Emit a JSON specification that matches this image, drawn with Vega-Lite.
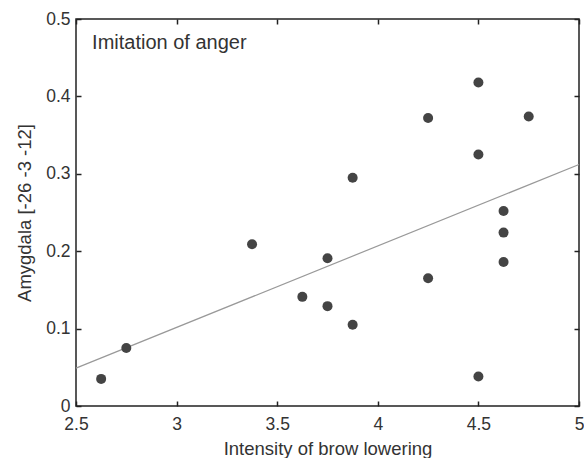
{
  "$schema": "https://vega.github.io/schema/vega-lite/v6.json",
  "width": 503,
  "height": 387,
  "autosize": {"type": "none"},
  "padding": {"left": 76, "top": 19, "right": 5, "bottom": 52},
  "background": "white",
  "config": {
    "view": {"stroke": "#222", "strokeWidth": 1.5},
    "font": "Liberation Sans",
    "axis": {
      "grid": false,
      "domain": false,
      "tickColor": "#222",
      "tickWidth": 1.5,
      "tickSize": -5,
      "labelFont": "Liberation Sans",
      "labelFontSize": 17.5,
      "labelColor": "#333",
      "titleFont": "Liberation Sans",
      "titleFontSize": 18.5,
      "titleFontWeight": "normal",
      "titleColor": "#333"
    }
  },
  "datasets": {
    "pts": [
      {"x": 2.625, "y": 0.035},
      {"x": 2.75, "y": 0.075},
      {"x": 3.375, "y": 0.209},
      {"x": 3.625, "y": 0.141},
      {"x": 3.75, "y": 0.191},
      {"x": 3.75, "y": 0.129},
      {"x": 3.875, "y": 0.105},
      {"x": 3.875, "y": 0.295},
      {"x": 4.25, "y": 0.165},
      {"x": 4.25, "y": 0.372},
      {"x": 4.5, "y": 0.038},
      {"x": 4.5, "y": 0.325},
      {"x": 4.5, "y": 0.418},
      {"x": 4.625, "y": 0.186},
      {"x": 4.625, "y": 0.224},
      {"x": 4.625, "y": 0.252},
      {"x": 4.75, "y": 0.374}
    ],
    "fit": [
      {"x": 2.5, "y": 0.049},
      {"x": 5.0, "y": 0.312}
    ],
    "label": [
      {"x": 2.58, "y": 0.469, "t": "Imitation of anger"}
    ]
  },
  "layer": [
    {
      "data": {"name": "fit"},
      "mark": {"type": "line", "color": "#999", "strokeWidth": 1.2},
      "encoding": {
        "x": {"field": "x", "type": "quantitative", "scale": {"domain": [2.5, 5], "nice": false, "zero": false},
              "axis": {"title": "Intensity of brow lowering", "values": [2.5, 3, 3.5, 4, 4.5, 5], "format": "~g", "labelPadding": 14, "titlePadding": 7, "labelFlush": false}},
        "y": {"field": "y", "type": "quantitative", "scale": {"domain": [0, 0.5], "nice": false},
              "axis": {"title": "Amygdala [-26 -3 -12]", "values": [0, 0.1, 0.2, 0.3, 0.4, 0.5], "format": "~g", "labelPadding": 11, "titlePadding": 11, "labelFlush": false}}
      }
    },
    {
      "data": {"name": "pts"},
      "mark": {"type": "point", "filled": true, "shape": "circle", "size": 100, "color": "#444", "opacity": 1},
      "encoding": {
        "x": {"field": "x", "type": "quantitative",
              "axis": {"orient": "top", "title": null, "labels": false, "values": [2.5, 3, 3.5, 4, 4.5, 5]}},
        "y": {"field": "y", "type": "quantitative",
              "axis": {"orient": "right", "title": null, "labels": false, "values": [0, 0.1, 0.2, 0.3, 0.4, 0.5]}}
      }
    },
    {
      "data": {"name": "label"},
      "mark": {"type": "text", "align": "left", "baseline": "middle", "fontSize": 20, "color": "#333", "font": "Liberation Sans"},
      "encoding": {
        "x": {"field": "x", "type": "quantitative", "axis": null},
        "y": {"field": "y", "type": "quantitative", "axis": null},
        "text": {"field": "t"}
      }
    }
  ],
  "resolve": {"axis": {"x": "independent", "y": "independent"}}
}
